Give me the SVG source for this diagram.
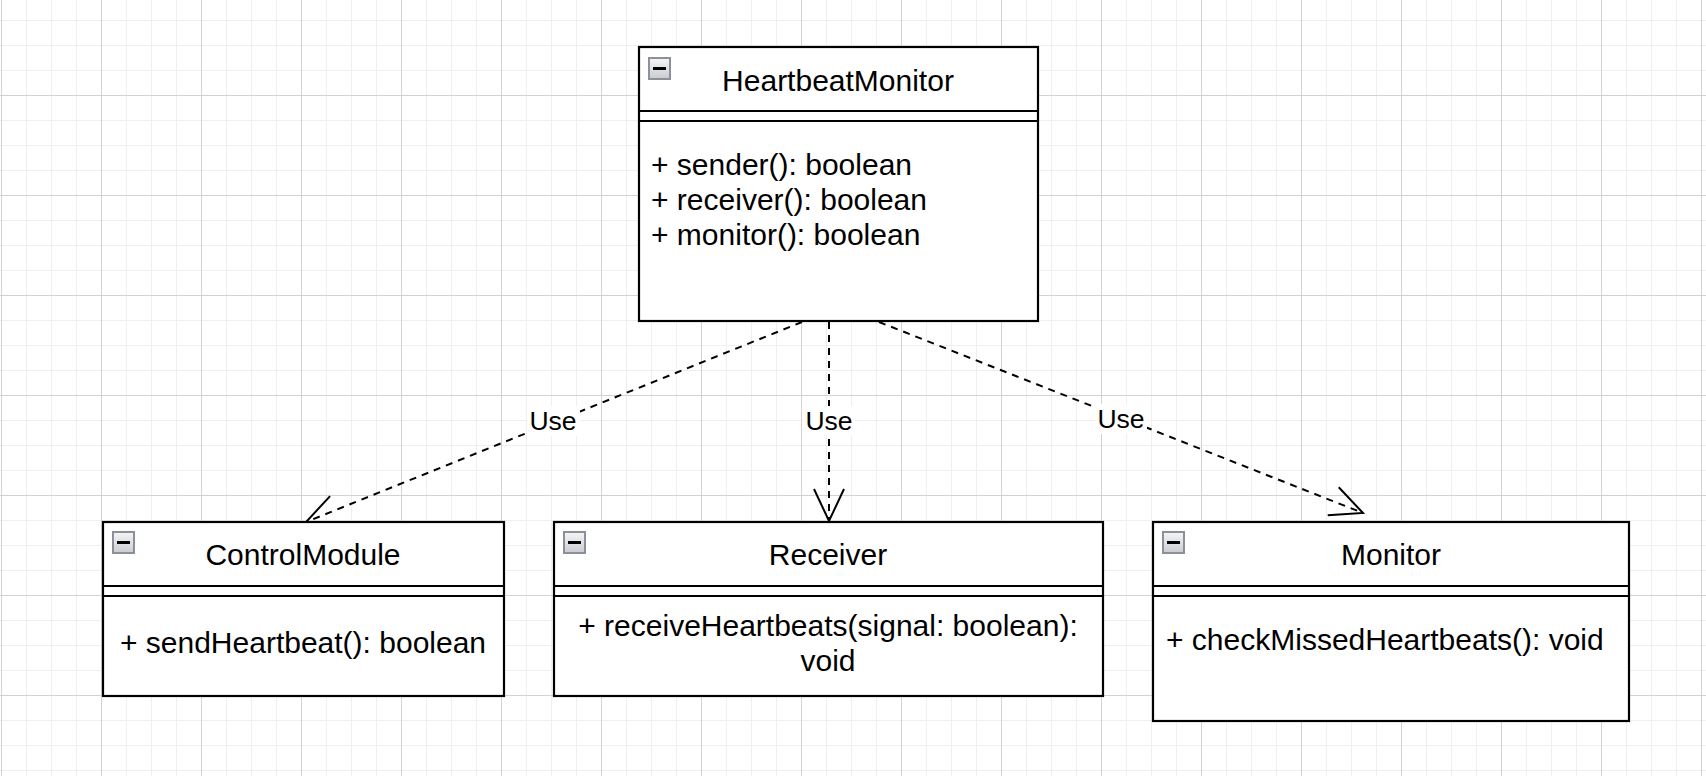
<svg xmlns="http://www.w3.org/2000/svg" width="1706" height="776" viewBox="0 0 1706 776">
<style>
  .box { fill: #ffffff; stroke: #000000; stroke-width: 2.2; }
  .sep { stroke: #000000; stroke-width: 2.2; fill: none; }
  .t { font-family: "Liberation Sans", Arial, Helvetica, sans-serif; font-size: 30px; fill: #000000; }
  .title { text-anchor: middle; }
  .mid { text-anchor: middle; }
  .lbl { font-family: "Liberation Sans", Arial, Helvetica, sans-serif; font-size: 26.5px; fill: #000000; text-anchor: middle; }
  .edge { fill: none; stroke: #000000; stroke-width: 2; stroke-dasharray: 7 6; }
  .lblbg { fill: #ffffff; stroke: none; }
  .icon-frame { fill: url(#iconGrad); stroke: #8b909a; stroke-width: 2; }
  .icon-bar { fill: #000000; }
</style>
<defs>
  <pattern id="grid" patternUnits="userSpaceOnUse" x="1" y="-5" width="100" height="100">
    <rect x="25" y="0" width="1" height="100" fill="#efefef"/>
    <rect x="50" y="0" width="1" height="100" fill="#efefef"/>
    <rect x="75" y="0" width="1" height="100" fill="#efefef"/>
    <rect x="0" y="25" width="100" height="1" fill="#efefef"/>
    <rect x="0" y="50" width="100" height="1" fill="#efefef"/>
    <rect x="0" y="75" width="100" height="1" fill="#efefef"/>
    <rect x="0" y="0" width="1" height="100" fill="#d2d2d2"/>
    <rect x="0" y="0" width="100" height="1" fill="#d2d2d2"/>
  </pattern>
  <linearGradient id="iconGrad" x1="0" y1="0" x2="0" y2="1">
    <stop offset="0" stop-color="#f6f6f6"/>
    <stop offset="1" stop-color="#c9cbd0"/>
  </linearGradient>
  <marker id="openArrow" markerUnits="userSpaceOnUse" viewBox="-40 -20 44 40" markerWidth="44" markerHeight="40" refX="0" refY="0" orient="auto" overflow="visible">
    <path d="M -32 -15 L 0 0 L -32 15" fill="none" stroke="#000000" stroke-width="2" stroke-dasharray="none"/>
  </marker>
</defs>

<rect x="0" y="0" width="1706" height="776" fill="#ffffff"/>
<rect x="0" y="0" width="1706" height="776" fill="url(#grid)"/>

<g id="connectors">
  <path class="edge" d="M 802 322 L 306 522" marker-end="url(#openArrow)"/>
  <path class="edge" d="M 829 322 L 829 521" marker-end="url(#openArrow)"/>
  <path class="edge" d="M 879 322 L 1363 513" marker-end="url(#openArrow)"/>
  <rect class="lblbg" x="527" y="406" width="53" height="30"/>
  <text class="lbl" x="553" y="430">Use</text>
  <rect class="lblbg" x="803" y="406" width="52" height="30"/>
  <text class="lbl" x="829" y="430">Use</text>
  <rect class="lblbg" x="1095" y="404" width="52" height="30"/>
  <text class="lbl" x="1121" y="428">Use</text>
</g>

<g id="HeartbeatMonitor">
  <rect class="box" x="639" y="47" width="399" height="274"/>
  <line class="sep" x1="639" y1="111" x2="1038" y2="111"/>
  <line class="sep" x1="639" y1="121" x2="1038" y2="121"/>
  <rect class="icon-frame" x="649" y="58" width="21" height="21"/>
  <rect class="icon-bar" x="653" y="67" width="13" height="3"/>
  <text class="t title" x="838" y="91">HeartbeatMonitor</text>
  <text class="t" x="651" y="175">+ sender(): boolean</text>
  <text class="t" x="651" y="210">+ receiver(): boolean</text>
  <text class="t" x="651" y="245">+ monitor(): boolean</text>
</g>

<g id="ControlModule">
  <rect class="box" x="103" y="522" width="401" height="174"/>
  <line class="sep" x1="103" y1="586" x2="504" y2="586"/>
  <line class="sep" x1="103" y1="596" x2="504" y2="596"/>
  <rect class="icon-frame" x="113" y="532" width="21" height="21"/>
  <rect class="icon-bar" x="117" y="541" width="13" height="3"/>
  <text class="t title" x="303" y="565">ControlModule</text>
  <text class="t mid" x="303" y="653">+ sendHeartbeat(): boolean</text>
</g>

<g id="Receiver">
  <rect class="box" x="554" y="522" width="549" height="174"/>
  <line class="sep" x1="554" y1="586" x2="1103" y2="586"/>
  <line class="sep" x1="554" y1="596" x2="1103" y2="596"/>
  <rect class="icon-frame" x="564" y="532" width="21" height="21"/>
  <rect class="icon-bar" x="568" y="541" width="13" height="3"/>
  <text class="t title" x="828" y="565">Receiver</text>
  <text class="t mid" x="828" y="636">+ receiveHeartbeats(signal: boolean):</text>
  <text class="t mid" x="828" y="671">void</text>
</g>

<g id="Monitor">
  <rect class="box" x="1153" y="522" width="476" height="199"/>
  <line class="sep" x1="1153" y1="586" x2="1629" y2="586"/>
  <line class="sep" x1="1153" y1="596" x2="1629" y2="596"/>
  <rect class="icon-frame" x="1163" y="532" width="21" height="21"/>
  <rect class="icon-bar" x="1167" y="541" width="13" height="3"/>
  <text class="t title" x="1391" y="565">Monitor</text>
  <text class="t" x="1166" y="650">+ checkMissedHeartbeats(): void</text>
</g>
</svg>
